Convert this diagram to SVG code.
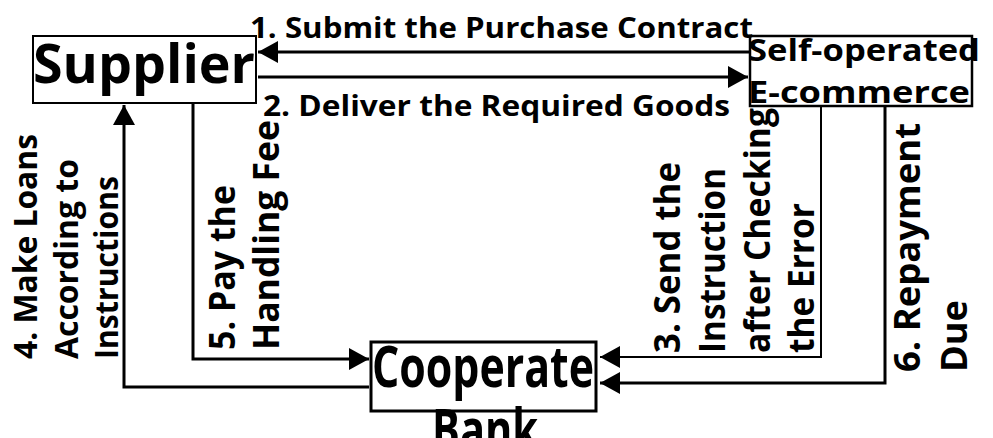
<svg xmlns="http://www.w3.org/2000/svg" width="993" height="438" viewBox="0 0 993 438">
<style>
  text { font-family: "Open Sans", "Liberation Sans", sans-serif; font-weight: 700; fill: #000; }
  .box { fill: #fff; stroke: #000; }
  .conn { fill: none; stroke: #000; stroke-width: 3; }
  .thin { stroke-width: 2; }
</style>
<defs>
  <marker id="ah" markerUnits="userSpaceOnUse" markerWidth="22" markerHeight="24" refX="20" refY="11" orient="auto">
    <path d="M0,0 L20,11 L0,22 Z" fill="#000"/>
  </marker>
</defs>
<rect width="993" height="438" fill="#fff"/>

<g id="supplier">
  <rect class="box" x="33" y="36" width="223" height="67" stroke-width="2"/>
  <text x="33" y="83" font-size="53" textLength="222" lengthAdjust="spacingAndGlyphs">Supplier</text>
</g>

<g id="ecommerce">
  <rect class="box" x="750" y="36" width="222" height="70" stroke-width="2.5"/>
  <text x="748" y="61" font-size="31" textLength="232" lengthAdjust="spacingAndGlyphs">Self-operated</text>
  <text x="748" y="103" font-size="31" textLength="222" lengthAdjust="spacingAndGlyphs">E-commerce</text>
</g>

<g id="bank">
  <rect class="box" x="371" y="342" width="225" height="69" stroke-width="3"/>
  <text x="372" y="387" font-size="57" textLength="222" lengthAdjust="spacingAndGlyphs">Cooperate</text>
  <text x="432" y="450" font-size="57" textLength="106" lengthAdjust="spacingAndGlyphs">Bank</text>
</g>

<g id="connectors">
  <line class="conn" x1="750" y1="52" x2="258" y2="52" marker-end="url(#ah)"/>
  <line class="conn" x1="258" y1="77" x2="748" y2="77" marker-end="url(#ah)"/>
  <polyline class="conn thin" points="821,106 821,357 600,357" marker-end="url(#ah)"/>
  <polyline class="conn" points="369,387 124,387 124,105" marker-end="url(#ah)"/>
  <polyline class="conn" points="193,103 193,359 369,359" marker-end="url(#ah)"/>
  <polyline class="conn" points="885,106 885,383 600,383" marker-end="url(#ah)"/>
</g>

<g id="labels">
  <text x="250" y="38" font-size="29" textLength="503" lengthAdjust="spacingAndGlyphs">1. Submit the Purchase Contract</text>
  <text x="263" y="116" font-size="28" textLength="467" lengthAdjust="spacingAndGlyphs">2. Deliver the Required Goods</text>
  <text transform="translate(680,353) rotate(-90)" font-size="35">
    <tspan x="0" y="0" textLength="191" lengthAdjust="spacingAndGlyphs">3. Send the</tspan>
    <tspan x="0" y="45" textLength="185" lengthAdjust="spacingAndGlyphs">Instruction</tspan>
    <tspan x="0" y="90" textLength="245" lengthAdjust="spacingAndGlyphs">after Checking</tspan>
    <tspan x="0" y="134" textLength="150" lengthAdjust="spacingAndGlyphs">the Error</tspan>
  </text>
  <text transform="translate(37,359) rotate(-90)" font-size="33">
    <tspan x="0" y="0" textLength="225" lengthAdjust="spacingAndGlyphs">4. Make Loans</tspan>
    <tspan x="0" y="41" textLength="200" lengthAdjust="spacingAndGlyphs">According to</tspan>
    <tspan x="0" y="81" textLength="183" lengthAdjust="spacingAndGlyphs">Instructions</tspan>
  </text>
  <text transform="translate(235,350) rotate(-90)" font-size="35">
    <tspan x="0" y="0" textLength="165" lengthAdjust="spacingAndGlyphs">5. Pay the</tspan>
    <tspan x="0" y="44" textLength="230" lengthAdjust="spacingAndGlyphs">Handling Fee</tspan>
  </text>
  <text transform="translate(920,372) rotate(-90)" font-size="36">
    <tspan x="0" y="0" textLength="249" lengthAdjust="spacingAndGlyphs">6. Repayment</tspan>
    <tspan x="0" y="47" textLength="72" lengthAdjust="spacingAndGlyphs">Due</tspan>
  </text>
</g>
</svg>
